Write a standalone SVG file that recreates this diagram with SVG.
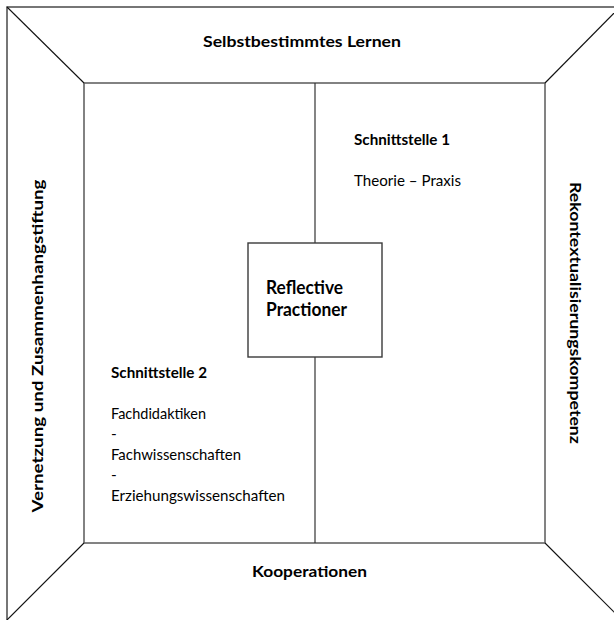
<svg xmlns="http://www.w3.org/2000/svg" width="614" height="620" viewBox="0 0 614 620">
  <style>
    .frame { fill: none; stroke: #4a4a4a; stroke-width: 1.5; }
    .inner { fill: none; stroke: #5a5a5a; stroke-width: 1.5; }
    .box { fill: #ffffff; stroke: #3a3a3a; stroke-width: 1.4; }
    .diag { stroke: #111111; stroke-width: 1.1; fill: none; }
    .mid { stroke: #333333; stroke-width: 1.2; fill: none; }
    text { font-family: "Lato", "Liberation Sans", sans-serif; fill: #000000; font-size: 15.4px; }
    .b { font-weight: bold; }
    .c { text-anchor: middle; }
    .big { font-size: 18.2px; }
  </style>
  <rect width="614" height="620" fill="#ffffff"/>

  <!-- outer frame (extends past the right and bottom edges) -->
  <g id="outer-frame">
    <rect class="frame" x="7" y="7" width="614" height="614"/>
  </g>

  <!-- inner field -->
  <g id="inner-field">
    <rect class="inner" x="84" y="83" width="461" height="460"/>
  </g>

  <g id="connectors">
    <line class="diag" x1="7" y1="7" x2="84" y2="83"/>
    <line class="diag" x1="621" y1="6" x2="545" y2="83"/>
    <line class="diag" x1="7" y1="620" x2="84" y2="543"/>
    <line class="diag" x1="622" y1="620" x2="545" y2="543"/>
    <line class="mid" x1="315" y1="83" x2="315" y2="243"/>
    <line class="mid" x1="315" y1="357" x2="315" y2="543"/>
  </g>

  <g id="top-label">
    <text class="b" x="203" y="47" textLength="198" lengthAdjust="spacingAndGlyphs">Selbstbestimmtes Lernen</text>
  </g>

  <g id="bottom-label">
    <text class="b" x="252" y="577" textLength="115" lengthAdjust="spacingAndGlyphs">Kooperationen</text>
  </g>

  <g id="left-label">
    <text class="b c" transform="translate(43,346) rotate(-90)" x="0" y="0" textLength="333" lengthAdjust="spacingAndGlyphs">Vernetzung und Zusammenhangstiftung</text>
  </g>

  <g id="right-label">
    <text class="b c" transform="translate(570,313) rotate(90)" x="0" y="0" textLength="262" lengthAdjust="spacingAndGlyphs">Rekontextualisierungskompetenz</text>
  </g>

  <g id="schnittstelle-1">
    <text class="b" x="354" y="145" textLength="96" lengthAdjust="spacingAndGlyphs">Schnittstelle 1</text>
    <text x="354" y="186" textLength="107" lengthAdjust="spacingAndGlyphs">Theorie – Praxis</text>
  </g>

  <g id="schnittstelle-2">
    <text class="b" x="111" y="378" textLength="96" lengthAdjust="spacingAndGlyphs">Schnittstelle 2</text>
    <text x="111" y="418.5" textLength="95" lengthAdjust="spacingAndGlyphs">Fachdidaktiken</text>
    <text x="111" y="439">-</text>
    <text x="111" y="459.5" textLength="130" lengthAdjust="spacingAndGlyphs">Fachwissenschaften</text>
    <text x="111" y="480">-</text>
    <text x="111" y="500.5" textLength="174" lengthAdjust="spacingAndGlyphs">Erziehungswissenschaften</text>
  </g>

  <g id="reflective-practioner">
    <rect class="box" x="248" y="243" width="134" height="114"/>
    <text class="b big" x="266" y="294" textLength="77" lengthAdjust="spacingAndGlyphs">Reflective</text>
    <text class="b big" x="266" y="316" textLength="81" lengthAdjust="spacingAndGlyphs">Practioner</text>
  </g>
</svg>
